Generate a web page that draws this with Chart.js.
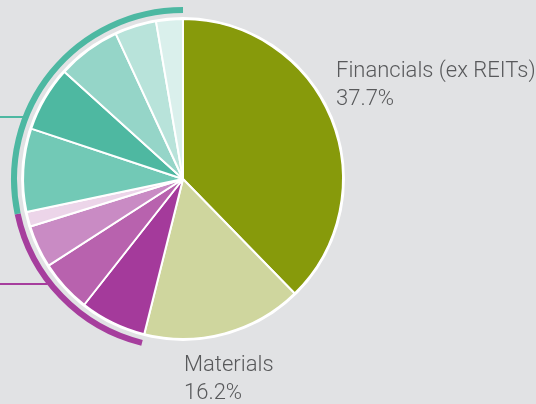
<!DOCTYPE html>
<html>
<head>
<meta charset="utf-8">
<script src="https://cdn.jsdelivr.net/npm/chart.js@4"></script>
<style>
  html, body { margin: 0; padding: 0; background: #e1e2e4; }
  #wrap { width: 536px; height: 404px; position: relative; }
</style>
</head>
<body>
<div id="wrap"><canvas id="chart" width="536" height="404"></canvas></div>
<script>
// sector weights, clockwise from 12 o'clock
var sectors = [
  "Financials (ex REITs)", "Materials",
  "Industrials", "Energy", "Consumer Discretionary", "Utilities",
  "Health Care", "Consumer Staples", "Information Technology", "Communication Services", "Real Estate"
];
var weights = [37.7, 16.2, 6.7, 5.3, 4.3, 1.5, 8.4, 6.6, 6.4, 4.2, 2.7];
var sliceColors = [
  "#879a0b", "#cfd69e",
  "#a43a9b", "#b862ae", "#c98bc4", "#ecd5e9",
  "#72c9b6", "#4eb8a1", "#95d5c8", "#b8e3da", "#daf0ec"
];
// which group each slice belongs to (outer arcs)
var groups = ["none", "none", "purple", "purple", "purple", "purple", "teal", "teal", "teal", "teal", "teal"];
var groupNames = ["none", "purple", "teal"];
var groupColors = ["rgba(0,0,0,0)", "#a63e9d", "#4db8a2"];
var labelled = ["Financials (ex REITs)", "Materials"];

var groupTotals = groupNames.map(function(g) {
  return weights.reduce(function(acc, w, i) {
    return groups[i] === g ? acc + w : acc;
  }, 0);
});

// labels + leader lines
var extrasPlugin = {
  id: "extras",
  afterDatasetsDraw: function(chart, args, opts) {
    var ctx = chart.ctx;
    var pie = chart.getDatasetMeta(3).data;
    var ring = chart.getDatasetMeta(0).data;
    var cx = pie[0].x, cy = pie[0].y;
    ctx.save();
    // leader lines
    opts.leaders.forEach(function(l) {
      var arc = ring[groupNames.indexOf(l.group)];
      var a = l.angle * Math.PI / 180;
      var x = cx + arc.outerRadius * Math.sin(a);
      var y = Math.round(cy - arc.outerRadius * Math.cos(a));
      ctx.strokeStyle = groupColors[groupNames.indexOf(l.group)];
      ctx.lineWidth = 2;
      ctx.beginPath();
      ctx.moveTo(0, y);
      ctx.lineTo(x + 1, y);
      ctx.stroke();
    });
    // text labels
    ctx.fillStyle = "#58595b";
    ctx.font = "300 22px Roboto";
    ctx.textAlign = "left";
    ctx.textBaseline = "alphabetic";
    opts.labels.forEach(function(l) {
      var i = sectors.indexOf(l.name);
      ctx.fillText(l.name, cx + l.dx, cy + l.dy);
      ctx.fillText(weights[i].toFixed(1) + "%", cx + l.dx, cy + l.dy + 28);
    });
    ctx.restore();
  }
};

new Chart(document.getElementById("chart"), {
  type: "pie",
  data: {
    labels: sectors,
    datasets: [
      {
        // outer group arcs
        data: groupTotals,
        backgroundColor: groupColors,
        borderWidth: 0,
        hoverBorderWidth: 0,
        weight: 6
      },
      {
        // gap
        data: [100],
        backgroundColor: "rgba(0,0,0,0)",
        borderWidth: 0,
        hoverBorderWidth: 0,
        weight: 4
      },
      {
        // white rim round the pie
        data: [100],
        backgroundColor: "#ffffff",
        borderWidth: 0,
        hoverBorderWidth: 0,
        weight: 2
      },
      {
        data: weights,
        backgroundColor: sliceColors,
        borderColor: "#ffffff",
        borderWidth: 2,
        hoverBorderWidth: 2,
        weight: 159
      }
    ]
  },
  options: {
    responsive: false,
    animation: false,
    events: [],
    layout: { padding: { left: 11, top: 7, right: 181, bottom: 53 } },
    plugins: {
      legend: { display: false },
      tooltip: { enabled: false },
      extras: {
        leaders: [
          { group: "teal", angle: 291.3 },
          { group: "purple", angle: 232.5 }
        ],
        labels: [
          { name: labelled[0], dx: 153, dy: -102 },
          { name: labelled[1], dx: 1, dy: 192 }
        ]
      }
    }
  },
  plugins: [extrasPlugin]
});
</script>
</body>
</html>
